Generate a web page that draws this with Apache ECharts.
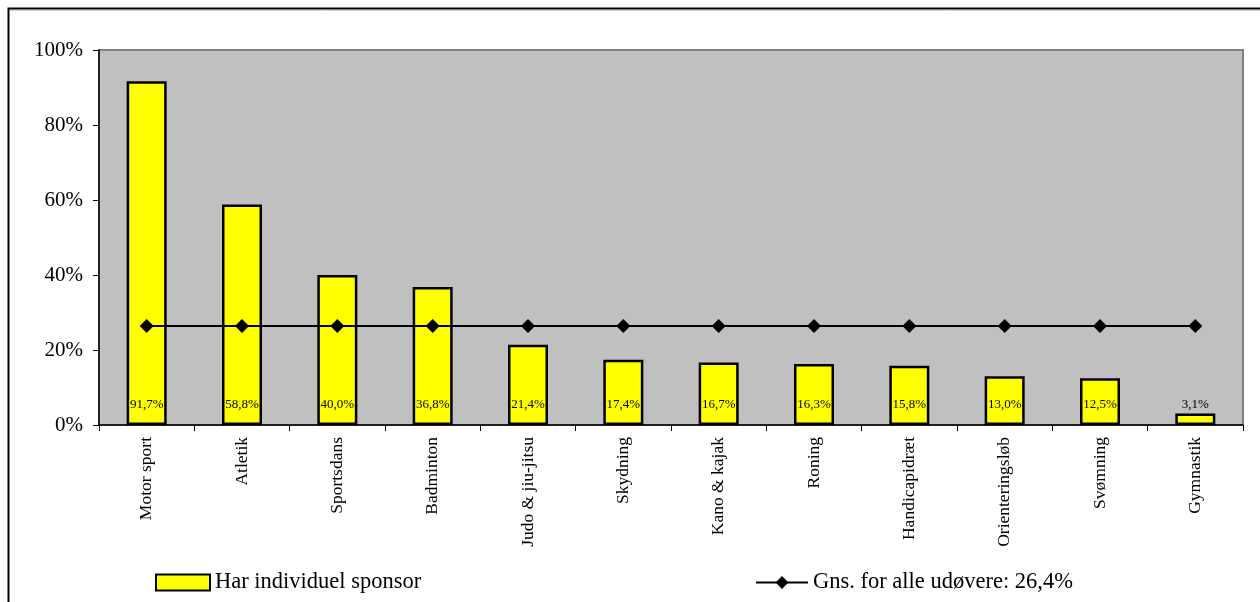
<!DOCTYPE html>
<html>
<head>
<meta charset="utf-8">
<script src="https://cdn.jsdelivr.net/npm/echarts@6/dist/echarts.min.js"></script>
<style>
html,body{margin:0;padding:0;background:#fff;}
#chart{width:1260px;height:602px;}
</style>
</head>
<body>
<div id="chart"></div>
<script>
const categories = ['Motor sport','Atletik','Sportsdans','Badminton','Judo & jiu-jitsu','Skydning','Kano & kajak','Roning','Handicapidræt','Orienteringsløb','Svømning','Gymnastik'];
const sponsorValues = [91.7, 58.8, 40.0, 36.8, 21.4, 17.4, 16.7, 16.3, 15.8, 13.0, 12.5, 3.1];
const averageValues = [26.4, 26.4, 26.4, 26.4, 26.4, 26.4, 26.4, 26.4, 26.4, 26.4, 26.4, 26.4];
const yTicks = [0, 20, 40, 60, 80, 100];
const barName = 'Har individuel sponsor';
const lineName = 'Gns. for alle udøvere: 26,4%';

const FONT = 'Liberation Serif';
const chart = echarts.init(document.getElementById('chart'), null, {renderer: 'canvas'});

function fmt(v) { return v.toFixed(1).replace('.', ',') + '%'; }

const barData = sponsorValues.map(function (v) {
  if (v < 8) {
    return {value: v, label: {position: 'top', distance: 2}};
  }
  return {value: v};
});

chart.setOption({
  animation: false,
  backgroundColor: '#ffffff',
  textStyle: {fontFamily: FONT, color: '#000'},
  graphic: [{
    type: 'rect',
    shape: {x: 8.5, y: 8.5, width: 1400, height: 800},
    style: {fill: 'none', stroke: '#000', lineWidth: 2},
    silent: true,
    z: 100
  }, {
    type: 'line',
    shape: {x1: 10, y1: 10.5, x2: 1260, y2: 10.5},
    style: {stroke: '#d0d0d0', lineWidth: 1},
    silent: true,
    z: 99
  }],
  grid: {
    left: 99, right: 17, top: 50, bottom: 177,
    show: true,
    backgroundColor: '#c0c0c0',
    borderColor: '#808080',
    borderWidth: 2
  },
  legend: [{
    data: [{name: barName, icon: 'rect'}],
    left: 150, top: 566,
    itemWidth: 54, itemHeight: 16, itemGap: 4,
    textStyle: {fontFamily: FONT, fontSize: 22.5, color: '#000'},
    itemStyle: {color: '#ffff00', borderColor: '#000', borderWidth: 2}
  }, {
    data: [lineName],
    left: 750, top: 566,
    itemWidth: 52, itemHeight: 16, itemGap: 4,
    textStyle: {fontFamily: FONT, fontSize: 22.5, color: '#000'}
  }],
  xAxis: {
    type: 'category',
    data: categories,
    boundaryGap: true,
    axisLine: {show: true, lineStyle: {color: '#000', width: 1.5}},
    axisTick: {show: true, alignWithLabel: false, length: 6, lineStyle: {color: '#000'}},
    axisLabel: {rotate: 90, fontFamily: FONT, fontSize: 17.5, color: '#000', margin: 12, interval: 0},
    splitLine: {show: false}
  },
  yAxis: {
    type: 'value',
    min: yTicks[0], max: yTicks[yTicks.length - 1], interval: 20,
    axisLine: {show: true, lineStyle: {color: '#000', width: 1.5}},
    axisTick: {show: true, length: 6, lineStyle: {color: '#000'}},
    axisLabel: {fontFamily: FONT, fontSize: 21, color: '#000', margin: 16, formatter: '{value}%'},
    splitLine: {show: false}
  },
  series: [{
    name: barName,
    type: 'bar',
    data: barData,
    barWidth: 40,
    itemStyle: {color: '#ffff00', borderColor: '#000', borderWidth: 2.5},
    label: {
      show: true,
      position: 'insideBottom',
      distance: 14,
      fontFamily: FONT,
      fontSize: 13,
      color: '#000',
      formatter: function (p) { return fmt(p.value); }
    },
    z: 2
  }, {
    name: lineName,
    type: 'line',
    data: averageValues,
    symbol: 'diamond',
    symbolSize: 14,
    lineStyle: {color: '#000', width: 2},
    itemStyle: {color: '#000'},
    z: 5
  }]
});
</script>
</body>
</html>
